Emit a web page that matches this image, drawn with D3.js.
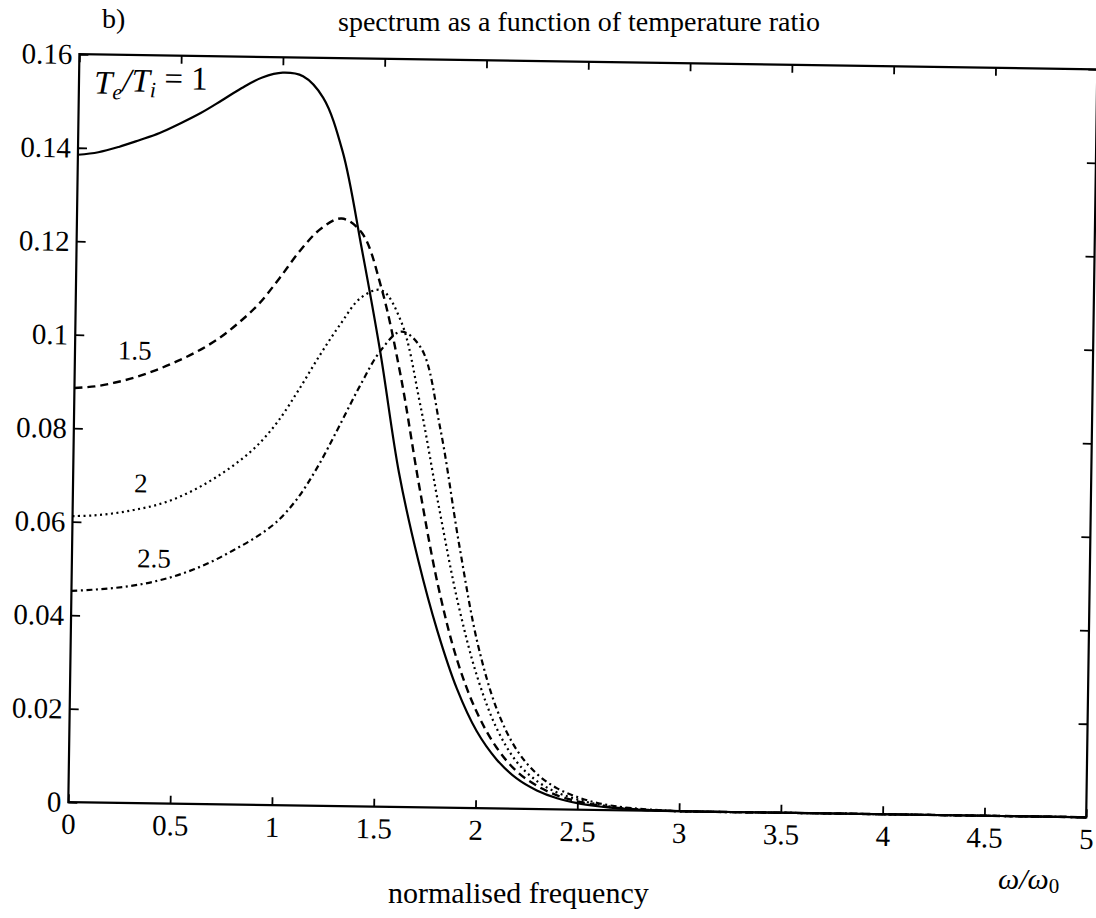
<!DOCTYPE html>
<html>
<head>
<meta charset="utf-8">
<script src="https://cdn.jsdelivr.net/npm/d3@7"></script>
<style>
  body { margin: 0; background: #fff; }
  svg { display: block; }
  text { font-family: "Liberation Serif", "DejaVu Serif", serif; fill: #000; }
</style>
</head>
<body>
<svg width="1096" height="918"></svg>
<script>
// shared sample grid (omega / omega0)
var freq = [0, 0.1, 0.2, 0.3, 0.4, 0.5, 0.6, 0.7, 0.8, 0.9,
            1.0, 1.1, 1.2, 1.3, 1.4, 1.5, 1.6, 1.7, 1.8, 1.9,
            2.0, 2.1, 2.2, 2.3, 2.4, 2.5, 2.6, 2.7, 2.8, 2.9,
            3.0, 3.5, 4.0, 4.5, 5.0];

// spectra, one per temperature ratio
var ratio1 = [0.1385, 0.1391, 0.1403, 0.1418, 0.1434, 0.1455, 0.1478, 0.1505, 0.1533, 0.1556,
              0.1567, 0.1560, 0.1515, 0.1400, 0.1195, 0.0971, 0.0715, 0.0530, 0.0378, 0.0255,
              0.0165, 0.0105, 0.0065, 0.0040, 0.0024, 0.0014, 0.0008, 0.0004, 0.0002, 0.0001,
              0, 0, 0, 0, 0];
var ratio15 = [0.0886, 0.0890, 0.0899, 0.0911, 0.0927, 0.0946, 0.0968, 0.0995, 0.1030, 0.1072,
               0.1128, 0.1188, 0.1235, 0.1257, 0.1227, 0.1110, 0.0925, 0.0688, 0.0475, 0.0315,
               0.0205, 0.0130, 0.0080, 0.0050, 0.0030, 0.0018, 0.0010, 0.0005, 0.0002, 0.0001,
               0, 0, 0, 0, 0];
var ratio2 = [0.0612, 0.0614, 0.0619, 0.0627, 0.0637, 0.0652, 0.0673, 0.0699, 0.0730, 0.0768,
              0.0820, 0.0888, 0.0962, 0.1030, 0.1088, 0.1105, 0.1038, 0.0860, 0.0640, 0.0437,
              0.0280, 0.0170, 0.0100, 0.0060, 0.0036, 0.0022, 0.0012, 0.0006, 0.0003, 0.0001,
              0, 0, 0, 0, 0];
var ratio25 = [0.0452, 0.0455, 0.0459, 0.0465, 0.0474, 0.0486, 0.0502, 0.0522, 0.0546, 0.0572,
               0.0605, 0.0655, 0.0725, 0.0810, 0.0898, 0.0975, 0.1017, 0.0982, 0.0810, 0.0565,
               0.0350, 0.0210, 0.0125, 0.0075, 0.0045, 0.0027, 0.0015, 0.0008, 0.0004, 0.0002,
               0, 0, 0, 0, 0];

var xTicks = [0, 0.5, 1, 1.5, 2, 2.5, 3, 3.5, 4, 4.5, 5];
var xTickLabels = ["0", "0.5", "1", "1.5", "2", "2.5", "3", "3.5", "4", "4.5", "5"];
var yTicks = [0, 0.02, 0.04, 0.06, 0.08, 0.1, 0.12, 0.14, 0.16];
var yTickLabels = ["0", "0.02", "0.04", "0.06", "0.08", "0.1", "0.12", "0.14", "0.16"];

// plot box (the scanned figure is tilted a little)
var cx = 582.8, cy = 435.75, innerwidth = 1018, innerheight = 748, tilt = 0.85;

var x = d3.scaleLinear().domain([0, 5]).range([0, innerwidth]);
var y = d3.scaleLinear().domain([0, 0.16]).range([innerheight, 0]);

var mysvg = d3.select("svg");
var g = mysvg.append("g")
  .attr("transform", "rotate(" + tilt + "," + cx + "," + cy + ") translate(" + (cx - innerwidth / 2) + "," + (cy - innerheight / 2) + ")");

function styleAxis(ax) {
  ax.select(".domain").remove();
  ax.selectAll(".tick line").attr("stroke", "#000").attr("stroke-width", 1.8);
  ax.selectAll(".tick text").style("font-size", "29px").attr("fill", "#000");
}

g.append("g")
  .attr("transform", "translate(0," + innerheight + ")")
  .call(d3.axisBottom(x).tickValues(xTicks).tickFormat(function(d, i) { return xTickLabels[i]; })
    .tickSizeInner(-8).tickSizeOuter(0).tickPadding(11))
  .call(styleAxis);
g.append("g")
  .call(d3.axisTop(x).tickValues(xTicks).tickFormat("").tickSizeInner(-8).tickSizeOuter(0))
  .call(styleAxis);
g.append("g")
  .call(d3.axisLeft(y).tickValues(yTicks).tickFormat(function(d, i) { return yTickLabels[i]; })
    .tickSizeInner(-9).tickSizeOuter(0).tickPadding(7))
  .call(styleAxis);
g.append("g")
  .attr("transform", "translate(" + innerwidth + ",0)")
  .call(d3.axisRight(y).tickValues(yTicks).tickFormat("").tickSizeInner(-9).tickSizeOuter(0))
  .call(styleAxis);

g.append("rect")
  .attr("x", 0).attr("y", 0)
  .attr("width", innerwidth).attr("height", innerheight)
  .attr("fill", "none").attr("stroke", "#000").attr("stroke-width", 2.2);

var series = [
  { values: ratio1, dash: null, width: 2.2 },
  { values: ratio15, dash: "8,5", width: 2.4 },
  { values: ratio2, dash: "2,3.5", width: 2.2 },
  { values: ratio25, dash: "6,3.5,2,3.5", width: 2.2 }
];

var line = d3.line()
  .x(function(d, i) { return x(freq[i]); })
  .y(function(d) { return y(d); })
  .curve(d3.curveCatmullRom.alpha(0.5));

g.selectAll(".spectrum")
  .data(series)
  .enter()
  .append("path")
  .attr("class", "spectrum")
  .attr("fill", "none")
  .attr("stroke", "#000")
  .attr("stroke-width", function(d) { return d.width; })
  .attr("stroke-dasharray", function(d) { return d.dash; })
  .attr("d", function(d) { return line(d.values); });

// curve labels
var lab = g.append("text")
  .attr("x", x(0.075)).attr("y", y(0.1541))
  .attr("dy", "0.35em")
  .style("font-size", "33px").style("font-style", "italic");
lab.append("tspan").text("T");
lab.append("tspan").attr("dy", "0.25em").style("font-size", "22px").text("e");
lab.append("tspan").attr("dy", "-0.25em").text("/T");
lab.append("tspan").attr("dy", "0.25em").style("font-size", "22px").text("i");
lab.append("tspan").attr("dy", "-0.25em").style("font-style", "normal").text(" = 1");

[["1.5", 0.294, 0.0969], ["2", 0.333, 0.0685], ["2.5", 0.403, 0.0525]].forEach(function(t) {
  g.append("text")
    .attr("x", x(t[1])).attr("y", y(t[2]))
    .attr("dy", "0.35em")
    .attr("text-anchor", "middle")
    .style("font-size", "27px")
    .text(t[0]);
});

// titles
mysvg.append("text")
  .attr("x", 102).attr("y", 28)
  .style("font-size", "28px")
  .text("b)");
mysvg.append("text")
  .attr("x", 338).attr("y", 31)
  .style("font-size", "28px")
  .text("spectrum as a function of temperature ratio");
mysvg.append("text")
  .attr("x", 388).attr("y", 903)
  .style("font-size", "30px")
  .text("normalised frequency");
var wl = mysvg.append("text")
  .attr("x", 998).attr("y", 889)
  .style("font-size", "30px").style("font-style", "italic");
wl.append("tspan").text("ω/ω");
wl.append("tspan").attr("dy", "0.2em").style("font-size", "21px").style("font-style", "normal").text("0");
</script>
</body>
</html>
